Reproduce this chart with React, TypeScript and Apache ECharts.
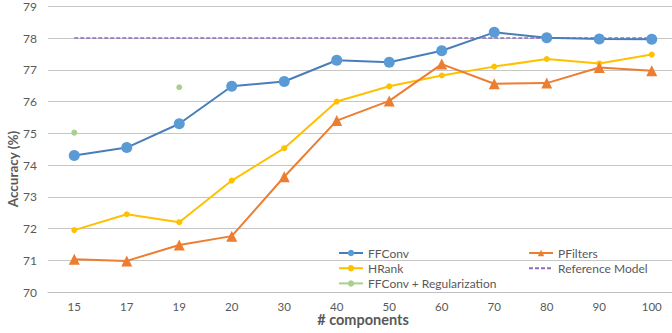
import React, { useEffect, useRef } from "react";
import * as echarts from "echarts";

const categories = ["15", "17", "19", "20", "30", "40", "50", "60", "70", "80", "90", "100"];
const ffconv = [74.3, 74.55, 75.3, 76.48, 76.63, 77.3, 77.24, 77.6, 78.18, 78.01, 77.97, 77.96];
const pfilters = [71.03, 70.98, 71.48, 71.76, 73.63, 75.4, 76.02, 77.18, 76.56, 76.58, 77.07, 76.97];
const hrank = [71.95, 72.45, 72.2, 73.51, 74.53, 76.0, 76.48, 76.82, 77.1, 77.34, 77.2, 77.48];
const referenceModel = [78, 78, 78, 78, 78, 78, 78, 78, 78, 78, 78, 78];
const ffconvReg: (number | string)[] = [75.02, "-", 76.45, "-", "-", "-", "-", "-", "-", "-", "-", "-"];

const FONT = "Lato, 'Open Sans', sans-serif";
const GREY = "#595959";

export default function App() {
  const ref = useRef<HTMLDivElement>(null);
  useEffect(() => {
    if (!ref.current) return;
    const chart = echarts.init(ref.current, undefined, { renderer: "svg" });
    const legendText = { color: GREY, fontSize: 12, lineHeight: 14, fontFamily: FONT };
    chart.setOption({
      animation: false,
      backgroundColor: "#ffffff",
      textStyle: { fontFamily: FONT },
      grid: { left: 48, right: -6, top: 6.3, bottom: 41, outerBoundsMode: "none", containLabel: false },
      graphic: [
        {
          type: "text",
          x: 13,
          y: 169,
          rotation: Math.PI / 2,
          style: {
            text: "Accuracy (%)",
            fill: GREY,
            font: `bold 13.5px ${FONT}`,
            textAlign: "center",
            textVerticalAlign: "middle",
          },
        },
      ],
      legend: [
        {
          orient: "vertical",
          left: 333,
          top: 241,
          itemWidth: 24,
          itemHeight: 8,
          itemGap: 1.2,
          textStyle: legendText,
          data: ["FFConv", "HRank", "FFConv + Regularization"],
        },
        {
          orient: "vertical",
          left: 523,
          top: 241,
          itemWidth: 24,
          itemHeight: 8,
          itemGap: 1.2,
          textStyle: legendText,
          data: ["PFilters", { name: "Reference Model", itemStyle: { opacity: 0 } }],
        },
      ],
      xAxis: {
        type: "category",
        data: categories,
        boundaryGap: true,
        axisTick: { show: false },
        axisLine: { show: true, lineStyle: { color: "#bfbfbf", width: 1 } },
        axisLabel: { color: GREY, fontSize: 11.5, margin: 8, fontFamily: FONT },
        name: "# components",
        nameLocation: "middle",
        nameGap: 20,
        nameMoveOverlap: false,
        nameTextStyle: { color: GREY, fontSize: 14.5, fontWeight: "bold", fontFamily: FONT },
      },
      yAxis: {
        type: "value",
        min: 70,
        max: 79,
        interval: 1,
        axisLine: { show: false },
        axisTick: { show: false },
        splitLine: { lineStyle: { color: "#c6c6c6", width: 1 } },
        axisLabel: { color: GREY, fontSize: 12, margin: 11, fontFamily: FONT },
      },
      series: [
        {
          name: "Reference Model",
          type: "line",
          data: referenceModel,
          symbol: "none",
          lineStyle: { color: "#8e6bbf", width: 1.5, type: [4, 2] },
          itemStyle: { color: "#8e6bbf" },
          z: 1,
        },
        {
          name: "FFConv + Regularization",
          type: "line",
          data: ffconvReg,
          symbol: "circle",
          symbolSize: 6,
          lineStyle: { color: "#a9d18e", width: 2 },
          itemStyle: { color: "#a9d18e" },
          z: 2,
        },
        {
          name: "HRank",
          type: "line",
          data: hrank,
          symbol: "circle",
          symbolSize: 6,
          lineStyle: { color: "#ffc000", width: 2 },
          itemStyle: { color: "#ffc000" },
          z: 3,
        },
        {
          name: "PFilters",
          type: "line",
          data: pfilters,
          symbol: "triangle",
          symbolSize: 11,
          lineStyle: { color: "#ed7d31", width: 2 },
          itemStyle: { color: "#ed7d31" },
          z: 4,
        },
        {
          name: "FFConv",
          type: "line",
          data: ffconv,
          symbol: "circle",
          symbolSize: 11,
          lineStyle: { color: "#4a7ebb", width: 2 },
          itemStyle: { color: "#5b9bd5" },
          z: 5,
        },
      ],
    });
    return () => chart.dispose();
  }, []);
  return (
    <div
      ref={ref}
      style={{ position: "fixed", left: 0, top: 0, width: 672, height: 333 }}
    />
  );
}
